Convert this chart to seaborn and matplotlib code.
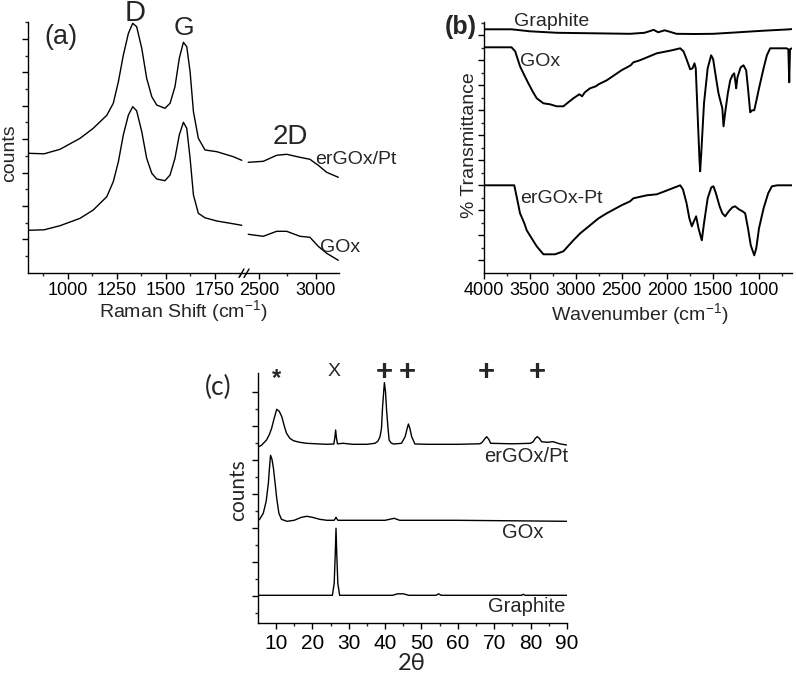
import numpy as np
import matplotlib
matplotlib.use("Agg")
import matplotlib.pyplot as plt
import seaborn as sns

# ---- (a) Raman, broken x axis ----
raman_left_shift = [800, 880, 961, 1063, 1130, 1199, 1232, 1258, 1283, 1309, 1331, 1351, 1377,
                    1402, 1428, 1453, 1495, 1521, 1546, 1568, 1589, 1606, 1623, 1640, 1665,
                    1699, 1759, 1843, 1886]
raman_ergox_left = [120, 119.5, 124, 135, 145, 158, 170, 191.6, 218, 240, 250, 246.6, 225,
                    195, 176.6, 168.3, 165, 170, 186.6, 215, 231, 226.6, 201.6, 161.6, 135,
                    123.3, 121.6, 116.6, 113]
raman_gox_left = [43, 43.5, 47.6, 55, 63.3, 76.6, 91.6, 111.6, 138.3, 158.3, 166.6, 162.5, 141.6,
                  115, 100, 94.3, 92.6, 98.3, 115, 138.3, 151, 145, 115, 78.3, 60,
                  55.5, 52.3, 49.5, 48]
raman_right_shift = [2406, 2538, 2655, 2743, 2860, 2947, 3020, 3094, 3196]
raman_ergox_right = [111, 112, 118, 119, 116, 114, 108, 101, 96]
raman_gox_right = [39, 37, 42, 42, 37, 36, 27, 20, 13]

# ---- (b) FTIR ----
ftir_graphite_wn = [4000, 3700, 3500, 3200, 2800, 2406, 2250, 2180, 2150, 2100, 2030, 1990,
                    1900, 1700, 1500, 1300, 950, 660, 640]
ftir_graphite = [244, 244, 242, 240.5, 240, 239.5, 240.5, 242.5, 243.5, 241, 243, 242,
                 239.5, 239.3, 239.5, 240.6, 242.6, 244, 244.3]

ftir_gox_wn = [4000, 3700, 3660, 3607, 3560, 3516, 3470, 3425, 3352, 3280, 3207, 3134, 3080,
               3025, 2960, 2930, 2900, 2843, 2780, 2750, 2661, 2500, 2400, 2370, 2300, 2115,
               1950, 1860, 1824, 1790, 1751, 1725, 1704, 1690, 1670, 1650, 1642, 1630, 1600,
               1560, 1522, 1500, 1470, 1442, 1420, 1400, 1387, 1370, 1340, 1314, 1290, 1271,
               1255, 1249, 1235, 1200, 1169, 1140, 1120, 1096, 1075, 1052, 1030, 1000, 950,
               914, 878, 820, 700, 680, 670, 662, 640]
ftir_gox = [226, 226, 222, 207, 198, 190, 182, 175, 170, 169, 167, 167, 171,
            175, 179, 177, 181, 185, 187, 189, 193, 203, 208, 211, 213, 220,
            223, 225, 222, 214, 204, 205, 210, 205, 160, 115, 102, 120, 170,
            205, 218, 214, 196, 180, 172, 165, 147, 160, 180, 193, 198, 200,
            190, 185, 196, 206, 208, 203, 185, 161, 163, 163, 172, 185, 205,
            218, 225, 225, 225, 224, 191, 224, 225]

ftir_ergox_wn = [4000, 3670, 3640, 3607, 3560, 3534, 3480, 3425, 3352, 3300, 3225, 3134, 3025,
                 2950, 2843, 2750, 2661, 2500, 2406, 2370, 2224, 2115, 2000, 1860, 1830, 1790,
                 1760, 1733, 1710, 1686, 1660, 1624, 1600, 1560, 1520, 1497, 1470, 1430, 1400,
                 1369, 1330, 1290, 1260, 1220, 1180, 1151, 1120, 1090, 1052, 1030, 1000, 950,
                 900, 859, 800, 700, 640]
ftir_ergox = [88, 88, 75, 60, 50, 43, 35, 27, 19, 19, 19, 22, 33,
              40, 48, 55, 60, 68, 72, 75, 78, 79, 83, 88, 84, 70,
              55, 47, 52, 57, 45, 33, 50, 75, 86, 87, 80, 67, 60,
              57, 62, 66, 67, 64, 62, 60, 45, 28, 18, 25, 45, 65,
              80, 87, 88, 88, 88]

# ---- (c) XRD ----
xrd_ergox_2t = [4.8, 6, 7.4, 8.2, 8.8, 9.5, 10.2, 10.9, 11.6, 12.3, 12.9, 13.8, 14.8, 16.5,
                18.4, 21, 24, 25.9, 26.2, 26.4, 26.6, 26.9, 28.5, 31, 35, 37.2, 38.0, 38.6,
                39.0, 39.3, 39.8, 40.1, 40.4, 40.8, 41.1, 41.6, 42.3, 44.5, 45.5, 46.0, 46.4,
                46.8, 47.3, 48.2, 52, 60, 66.0, 66.6, 67.3, 67.9, 68.5, 69.0, 75, 80.0, 80.7,
                81.3, 81.8, 82.4, 83.0, 84.5, 86.2, 88, 89.9]
xrd_ergox = [176, 178, 183.3, 189, 195, 205, 214, 212, 206.6, 197, 190, 185, 182.6, 181,
             180, 179.5, 179, 179.3, 186, 193.3, 186, 179.5, 180, 179, 179, 180, 182, 186.6,
             195, 216.6, 240.6, 232, 213.3, 195, 183.3, 180.5, 179.3, 180, 186.6, 194, 199.3,
             195, 186.6, 179.3, 179, 179, 179.5, 180.6, 184, 186.6, 184, 180, 179.5, 180, 181.6,
             185, 186.6, 185, 181.6, 181, 181.6, 179.5, 178.3]
xrd_gox_2t = [4.8, 5.5, 6.5, 7.3, 7.9, 8.2, 8.5, 8.9, 9.3, 9.7, 10.2, 10.8, 11.5, 13, 15, 17,
              18.5, 20, 22, 24, 26, 26.5, 27, 40, 42.5, 44, 60, 90]
xrd_gox = [102, 104, 110, 122, 140, 155, 168, 164, 155, 142, 125, 110, 104, 102, 103, 106,
           107, 106, 104, 103, 103, 106, 103, 103, 105, 103, 103, 102]
xrd_graphite_2t = [5, 25.5, 26.0, 26.3, 26.5, 26.7, 27.0, 27.5, 42, 43.5, 45, 46.5, 54, 54.7,
                   55.4, 77.5, 78, 78.5, 90]
xrd_graphite = [28, 28, 40, 70, 95, 70, 40, 28, 28, 29.5, 29.5, 28, 28, 29.5,
                28, 28, 29, 28, 28]
xrd_marks = ["*", "X", "+", "+", "+", "+"]
xrd_mark_pos = [10.2, 26.0, 39.7, 46.2, 67.7, 81.8]

sns.set_style("ticks")
plt.rcParams['font.family'] = ['Liberation Sans', 'DejaVu Sans']
plt.rcParams['mathtext.fontset'] = 'custom'
plt.rcParams['mathtext.rm'] = 'Liberation Sans'
plt.rcParams['mathtext.it'] = 'Liberation Sans'
CAL = ['Lato', 'DejaVu Sans']

W, H = 796, 673
fig = plt.figure(figsize=(W / 100, H / 100), dpi=100)


def box(x0, y0, x1, y1):
    return [x0 / W, 1 - y1 / H, (x1 - x0) / W, (y1 - y0) / H]


def fx(px):
    return px / W


def fy(py):
    return 1 - py / H


def style(ax, size):
    for s in ["top", "right"]:
        ax.spines[s].set_visible(False)
    for s in ["left", "bottom"]:
        ax.spines[s].set_linewidth(1.0)
        ax.spines[s].set_color("black")
    ax.tick_params(which="major", length=4.5, width=1, labelsize=size, pad=2, colors="black")
    ax.tick_params(which="minor", length=2.5, width=1)


line_kw = dict(color="black", lw=1.0)

# (a)
ax_l = fig.add_axes(box(28.4, 22, 245.5, 273.3))
ax_r = fig.add_axes(box(245.5, 22, 339, 273.3))
sns.lineplot(x=raman_left_shift, y=raman_ergox_left, ax=ax_l, **line_kw)
sns.lineplot(x=raman_left_shift, y=raman_gox_left, ax=ax_l, **line_kw)
sns.lineplot(x=raman_right_shift, y=raman_ergox_right, ax=ax_r, **line_kw)
sns.lineplot(x=raman_right_shift, y=raman_gox_right, ax=ax_r, **line_kw)
for ax in (ax_l, ax_r):
    style(ax, 13)
    ax.set_ylim(0, 251.3)
ax_l.set_xlim(800, 1905)
ax_r.set_xlim(2382, 3202)
ax_l.set_xticks([1000, 1250, 1500, 1750])
ax_l.set_xticks([875, 1125, 1375, 1625, 1875], minor=True)
ax_r.set_xticks([2500, 3000])
ax_r.set_xticks([2750], minor=True)
ax_l.set_yticks(34 + 33.4 * np.arange(7))
ax_l.set_yticks(17.3 + 33.4 * np.arange(8), minor=True)
ax_l.set_yticklabels([])
ax_r.spines["left"].set_visible(False)
ax_r.tick_params(axis="y", which="both", left=False, labelleft=False)
for px in (241.5, 246.5):
    fig.add_artist(plt.Line2D([fx(px - 2.5), fx(px + 2.5)], [fy(277.5), fy(269)],
                              transform=fig.transFigure, color="black", lw=1))
fig.text(fx(61), fy(37), "(a)", ha="center", va="center", fontsize=19.5)
fig.text(fx(135), fy(21), "D", ha="center", va="baseline", fontsize=21)
fig.text(fx(184), fy(28), "G", ha="center", va="center", fontsize=19)
fig.text(fx(290), fy(137), "2D", ha="center", va="center", fontsize=20)
fig.text(fx(315), fy(160), "erGOx/Pt", ha="left", va="center", fontsize=14)
fig.text(fx(320), fy(248), "GOx", ha="left", va="center", fontsize=14)
fig.text(fx(10), fy(153), "counts", ha="center", va="center", rotation=90, fontsize=14)
fig.text(fx(183), fy(311), "Raman Shift (cm$^{-1}$)", ha="center", va="center", fontsize=14)

# (b)
ax_b = fig.add_axes(box(484, 22, 792, 273.3))
ftir_kw = dict(color="black", lw=1.4)
sns.lineplot(x=ftir_graphite_wn, y=ftir_graphite, ax=ax_b, **ftir_kw)
sns.lineplot(x=ftir_gox_wn, y=ftir_gox, ax=ax_b, **ftir_kw)
sns.lineplot(x=ftir_ergox_wn, y=ftir_ergox, ax=ax_b, **ftir_kw)
style(ax_b, 13)
ax_b.set_xlim(4000, 640)
ax_b.set_ylim(0, 251.3)
ax_b.set_xticks(np.arange(4000, 999, -500))
ax_b.set_xticks(np.arange(3750, 700, -500), minor=True)
ax_b.set_yticks(13.3 + 25 * np.arange(10))
ax_b.set_yticks(25.8 + 25 * np.arange(10), minor=True)
ax_b.set_yticklabels([])
fig.text(fx(461), fy(27), "(b)", ha="center", va="center", fontsize=18, fontweight="bold")
fig.text(fx(552), fy(21), "Graphite", ha="center", va="center", fontsize=14)
fig.text(fx(520), fy(62), "GOx", ha="left", va="center", fontsize=14)
fig.text(fx(520), fy(198), "erGOx-Pt", ha="left", va="center", fontsize=14)
fig.text(fx(470), fy(145), "% Transmittance", ha="center", va="center", rotation=90, fontsize=14)
fig.text(fx(640), fy(314), "Wavenumber (cm$^{-1}$)", ha="center", va="center", fontsize=14)

# (c)
ax_c = fig.add_axes(box(257.8, 373.3, 567, 623.3))
sns.lineplot(x=xrd_ergox_2t, y=xrd_ergox, ax=ax_c, **line_kw)
sns.lineplot(x=xrd_gox_2t, y=xrd_gox, ax=ax_c, **line_kw)
sns.lineplot(x=xrd_graphite_2t, y=xrd_graphite, ax=ax_c, **line_kw)
style(ax_c, 15)
ax_c.tick_params(which="major", pad=3)
ax_c.set_xlim(5, 90)
ax_c.set_ylim(0, 250)
ax_c.set_xticks(np.arange(10, 91, 10))
ax_c.set_xticks(np.arange(15, 90, 10), minor=True)
ax_c.set_yticks(27.7 + 34 * np.arange(7))
ax_c.set_yticks(10.7 + 34 * np.arange(7), minor=True)
ax_c.set_yticklabels([])
for m, pos in zip(xrd_marks, xrd_mark_pos):
    if m == "+":
        ax_c.text(pos, 251, m, ha="center", va="center", fontsize=21, fontweight="bold", clip_on=False)
    elif m == "*":
        ax_c.text(pos, 245, m, ha="center", va="center", fontsize=17, fontweight="bold", clip_on=False)
    else:
        ax_c.text(pos, 251.5, m, ha="center", va="center", fontsize=14, clip_on=False)
fig.text(fx(568), fy(457), "erGOx/Pt", ha="right", va="center", fontsize=14.5)
fig.text(fx(523), fy(533), "GOx", ha="center", va="center", fontsize=14.5)
fig.text(fx(565), fy(607), "Graphite", ha="right", va="center", fontsize=14.5)
fig.text(fx(218), fy(387), "(c)", ha="center", va="center", fontsize=19, family=CAL)
fig.text(fx(238), fy(490), "counts", ha="center", va="center", rotation=90, fontsize=15, family=CAL)
fig.text(fx(412), fy(663), "2θ", ha="center", va="center", fontsize=17, family=CAL)

fig.savefig("out.png", dpi=100)
